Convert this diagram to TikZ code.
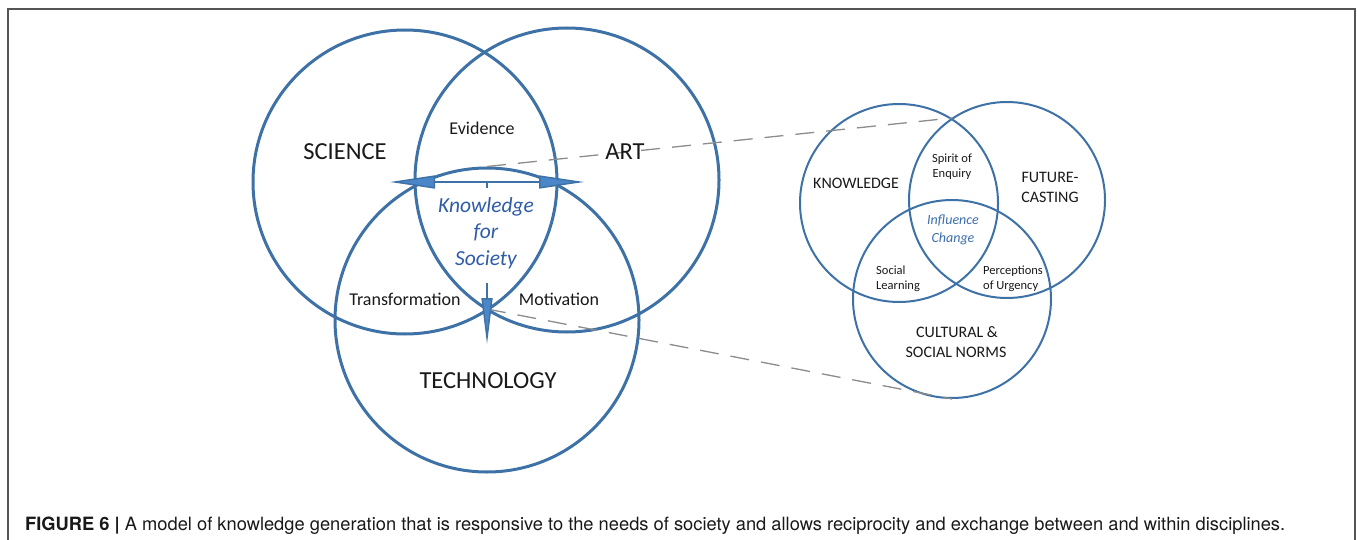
\documentclass[tikz,border=0pt]{standalone}
\usepackage{fontspec}
\setmainfont{Carlito}
\newfontfamily\capfont{TeX Gyre Heros}
\usetikzlibrary{arrows.meta}
\definecolor{circblue}{RGB}{62,114,166}
\definecolor{arrblue}{RGB}{75,135,200}
\definecolor{kblue}{RGB}{47,92,168}
\definecolor{iblue}{RGB}{60,110,175}
\definecolor{dashgray}{RGB}{140,140,140}
\definecolor{framegray}{RGB}{85,85,85}
\definecolor{txt}{RGB}{25,25,25}
\begin{document}
\begin{tikzpicture}[x=1pt,y=-1pt,
  bigcirc/.style={circle, draw=circblue, line width=3pt, inner sep=0pt, minimum size=304pt},
  smallcirc/.style={circle, draw=circblue, line width=2pt, inner sep=0pt, minimum size=200pt},
  lbl/.style={anchor=base, inner sep=0pt, text=txt},
  biglbl/.style={lbl, font=\fontsize{24.5}{28}\selectfont},
  midlbl/.style={lbl, font=\fontsize{18}{21}\selectfont},
  kfs/.style={anchor=base, inner sep=0pt, text=kblue, font=\fontsize{21.5}{25}\selectfont\itshape},
  smlbl/.style={lbl, font=\fontsize{16}{19}\selectfont},
  tinylbl/.style={lbl, font=\fontsize{12.5}{15}\selectfont},
  inflbl/.style={anchor=base, inner sep=0pt, text=iblue, font=\fontsize{14}{17}\selectfont\itshape},
  dashline/.style={draw=dashgray, line width=1.3pt, dash pattern=on 19pt off 12pt},
  arrowline/.style={draw=circblue, line width=1.5pt},
  bigtip/.style={-{Triangle[length=45pt,width=13pt,fill=arrblue]}},
]
\useasboundingbox (0,0) rectangle (1357,540);
% frame
\draw[framegray, line width=2pt] (8,545) -- (8,9) -- (1355,9) -- (1355,545);

% big circles
\node[bigcirc] (sci) at (405,182) {};
\node[bigcirc] (art) at (567,180) {};
\node[bigcirc] (tech) at (487,320) {};

% small circles
\node[smallcirc, minimum size=198pt] (know) at (899,203) {};
\node[smallcirc, minimum size=196pt] (fut) at (1007,200) {};
\node[smallcirc, minimum size=198pt] (cult) at (952,299) {};

% dashed connectors
\coordinate (kftop) at (952,118);
\coordinate (sabot) at (487,309);
\draw[dashline] (tech.north) -- (kftop);
\draw[dashline] (sabot) -- (cult.south);

% arrows
\coordinate (hmid) at (487,182);
\coordinate (hl) at (390,182);
\coordinate (hr) at (584,182);
\coordinate (tick) at (487,188);
\coordinate (vtop) at (487,283);
\coordinate (vtip) at (487,344);
\draw[arrowline, bigtip] (hmid) -- (hl);
\draw[arrowline, bigtip] (hmid) -- (hr);
\draw[arrowline] (hmid) -- (tick);
\draw[arrowline, -{Triangle[length=46pt,width=11pt,fill=arrblue]}] (vtop) -- (vtip);

% big labels
\node[biglbl] (tsci) at (345,160) {SCIENCE};
\node[biglbl] (tart) at (625,160) {ART};
\node[biglbl] (ttech) at (488,388) {TECHNOLOGY};
\node[midlbl] (tevid) at (482,135) {Evidence};
\node[midlbl] (ttrans) at (405,305) {Transformation};
\node[midlbl] (tmot) at (559,305) {Motivation};
\node[kfs] (k1) at (486,212) {Knowledge};
\node[kfs] (k2) at (486,238) {for};
\node[kfs] (k3) at (486,265) {Society};

% small labels
\node[smlbl] (tknow) at (856,189) {KNOWLEDGE};
\node[smlbl] (tfut1) at (1050,183) {FUTURE-};
\node[smlbl] (tfut2) at (1050,203) {CASTING};
\node[tinylbl] (tsp1) at (952,163) {Spirit of};
\node[tinylbl] (tsp2) at (952,178) {Enquiry};
\node[inflbl] (tin1) at (953,225) {Influence};
\node[inflbl] (tin2) at (953,242) {Change};
\node[tinylbl, anchor=base west] (tsl1) at (876,274) {Social};
\node[tinylbl, anchor=base west] (tsl2) at (876,289) {Learning};
\node[tinylbl, anchor=base west] (tpu1) at (983,274) {Perceptions};
\node[tinylbl, anchor=base west] (tpu2) at (983,289) {of Urgency};
\node[smlbl] (tcu1) at (957,337) {CULTURAL \&};
\node[smlbl] (tcu2) at (956,357) {SOCIAL NORMS};

% caption
\node[anchor=base west, inner sep=0pt, text=txt, font=\capfont\fontsize{18.3}{21}\selectfont] (cap) at (25,530)
  {\textbf{FIGURE 6 |} A model of knowledge generation that is responsive to the needs of society and allows reciprocity and exchange between and within disciplines.};
\end{tikzpicture}
\end{document}
